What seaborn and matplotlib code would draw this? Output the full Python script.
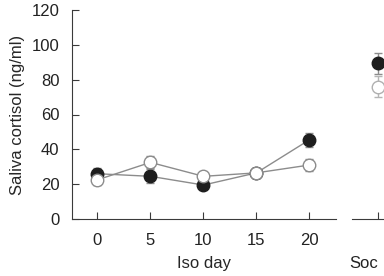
import numpy as np
import pandas as pd
import matplotlib
matplotlib.use('Agg')
import matplotlib.pyplot as plt
import seaborn as sns

# Saliva cortisol values
iso_days = [0, 5, 10, 15, 20]
filled_mean = [26, 24.5, 19.5, 26.5, 45.5]
filled_err = [3, 4, 2, 3, 4]
open_mean = [22.5, 32.5, 24.5, 26.5, 31]
open_err = [3, 3.5, 2, 3, 3.5]
soc_filled = 89.5
soc_filled_err = 6
soc_open = 76
soc_open_err = 6

sns.set_style('ticks')
plt.rcParams['font.family'] = ['Liberation Sans', 'DejaVu Sans']
plt.rcParams['font.size'] = 12

grey = '#8c8c8c'
dark = '#1e1e1e'
spine_col = '#3a3a3a'

fig = plt.figure(figsize=(3.84, 2.76), dpi=100)
ax = fig.add_axes([72 / 384, 57 / 276, 264 / 384, 209 / 276])
ax2 = fig.add_axes([352 / 384, 57 / 276, 68 / 384, 209 / 276])

df = pd.DataFrame({'day': iso_days * 2,
                   'cortisol': filled_mean + open_mean,
                   'group': ['filled'] * 5 + ['open'] * 5})

for grp, mean, err, face in [('filled', filled_mean, filled_err, dark),
                             ('open', open_mean, open_err, 'white')]:
    ax.errorbar(iso_days, mean, yerr=err, fmt='none', ecolor=grey,
                elinewidth=1, capsize=3, capthick=1, zorder=2)
    sns.lineplot(data=df[df['group'] == grp], x='day', y='cortisol', ax=ax,
                 color=grey, linewidth=1, marker='o', markersize=9,
                 markerfacecolor=face, markeredgecolor=dark if face == dark else grey,
                 markeredgewidth=1, zorder=3)

ax.set_xlim(-2.4, 22.5)
ax.set_ylim(0, 120)
ax.set_xticks(iso_days)
ax.set_yticks(range(0, 121, 20))
ax.set_xlabel('Iso day', labelpad=6)
ax.set_ylabel('Saliva cortisol (ng/ml)', labelpad=5)
sns.despine(ax=ax)
for s in ['left', 'bottom']:
    ax.spines[s].set_color(spine_col)
ax.tick_params(direction='in', length=5, color=spine_col, labelcolor='#222222')
ax.tick_params(axis='x', pad=10)
ax.tick_params(axis='y', pad=9)

# Social panel
ax2.errorbar([0], [soc_filled], yerr=[soc_filled_err], fmt='none', ecolor=grey,
             elinewidth=1, capsize=3, capthick=1)
ax2.errorbar([0], [soc_open], yerr=[soc_open_err], fmt='none', ecolor='#b5b5b5',
             elinewidth=1, capsize=3, capthick=1)
ax2.plot([0], [soc_filled], 'o', markersize=9, markerfacecolor=dark, markeredgecolor=dark, zorder=3)
ax2.plot([0], [soc_open], 'o', markersize=9, markerfacecolor='white', markeredgecolor='#b0b0b0', zorder=3)
ax2.set_xlim(-1, 1.6)
ax2.set_ylim(0, 120)
ax2.set_xticks([0])
ax2.set_xticklabels([''])
ax2.set_yticks([])
sns.despine(ax=ax2, left=True)
ax2.spines['bottom'].set_color(spine_col)
ax2.tick_params(direction='in', length=5, color=spine_col)
fig.text(349 / 384, 1 - 263 / 276, 'Soc', ha='left', va='center', fontsize=12, color='#222222')

fig.savefig('out.png', dpi=100)
